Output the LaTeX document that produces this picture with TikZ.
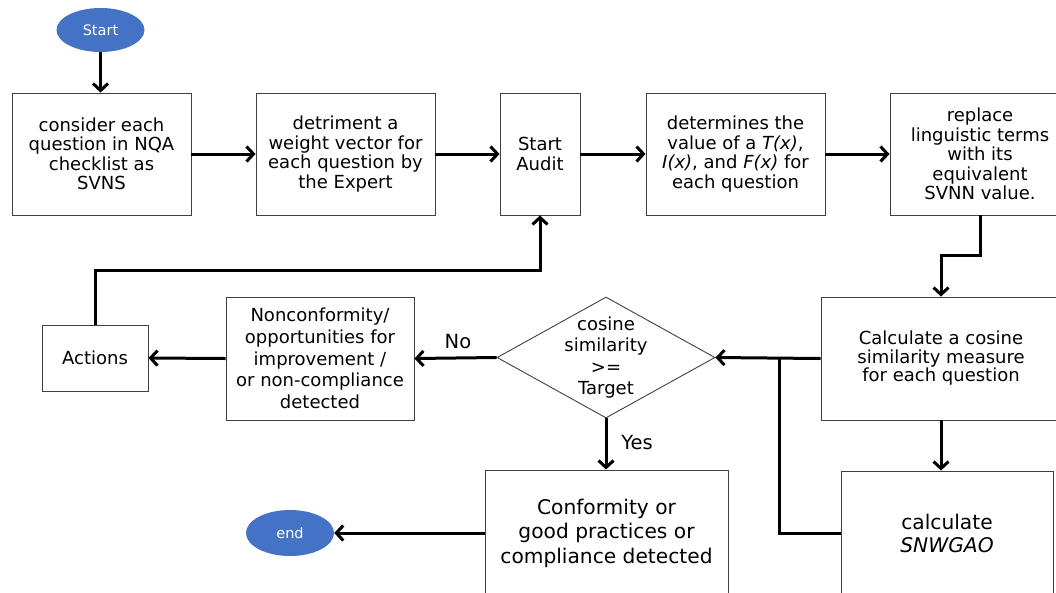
\documentclass[tikz,border=0pt]{standalone}
\usepackage{fontspec}
\setmainfont{DejaVu Sans}
\usetikzlibrary{arrows.meta,shapes.geometric,calc}
\definecolor{ovalblue}{HTML}{4472C4}
\definecolor{boxline}{HTML}{404040}
\tikzset{
  box/.style={draw=boxline,line width=0.9pt,align=center,inner sep=0pt,
    font=\fontsize{18}{19.5}\selectfont},
  bigbox/.style={box,font=\fontsize{20.2}{24.5}\selectfont},
  oval/.style={ellipse,fill=ovalblue,draw=none,text=white,inner sep=0pt,
    font=\fontsize{14.5}{16}\selectfont},
  conn/.style={line width=3pt},
  arr/.style={conn,-{Straight Barb[length=7pt,width=15pt]}},
  lbl/.style={font=\fontsize{19.5}{22}\selectfont,inner sep=0pt}
}
\begin{document}
\begin{tikzpicture}[x=1pt,y=-1pt]
\useasboundingbox (0,0) rectangle (1056,592);
\clip (0,0) rectangle (1056,592);
% nodes
\node[oval,minimum width=88pt,minimum height=44pt] (start) at (100.5,30) {Start};
\node[box,minimum width=179pt,minimum height=122pt] (b1) at (101.5,154)
  {consider each\\question in NQA\\checklist as\\SVNS};
\node[box,minimum width=179pt,minimum height=122pt] (b2) at (345.5,154)
  {detriment a\\weight vector for\\each question by\\the Expert};
\node[box,minimum width=80pt,minimum height=122pt] (b3) at (540,154)
  {Start\\Audit};
\node[box,minimum width=179pt,minimum height=122pt] (b4) at (735.5,154)
  {determines the\\value of a \textit{T(x)},\\\textit{I(x)}, and \textit{F(x)} for\\each question};
\node[box,minimum width=180pt,minimum height=122pt] (b5) at (980,154)
  {replace\\linguistic terms\\with its\\equivalent\\SVNN value.};
\node[box,minimum width=240pt,minimum height=123pt,font=\fontsize{18}{18.5}\selectfont] (calc) at (941,358.5)
  {Calculate a cosine\\similarity measure\\for each question};
\node[diamond,draw=boxline,line width=0.9pt,minimum width=218pt,minimum height=121pt,inner sep=0pt] (dia) at (606,357.5) {};
\node[align=center,inner sep=0pt,font=\fontsize{18}{21.5}\selectfont] (diat) at (dia.center)
  {cosine\\similarity\\>=\\Target};
\node[box,minimum width=188pt,minimum height=123pt,font=\fontsize{18}{21.75}\selectfont] (nc) at (320,358.5)
  {Nonconformity/\\opportunities for\\improvement /\\or non-compliance\\detected};
\node[box,minimum width=106pt,minimum height=66pt] (act) at (95,358)
  {Actions};
\node[bigbox,minimum width=243pt,minimum height=126pt] (conf) at (606.5,533)
  {Conformity or\\good practices or\\compliance detected};
\node[bigbox,minimum width=212pt,minimum height=124pt,font=\fontsize{20.2}{23}\selectfont] (snw) at (947,533)
  {calculate\\\textit{SNWGAO}};
\node[oval,minimum width=88pt,minimum height=46pt] (end) at (290,533) {end};
% coordinates
\coordinate (j) at (779,357.5);
\coordinate (lp) at (540,270);
% connectors
\draw[arr] (start.south) -- (start.south |- b1.north);
\draw[arr] (b1.east) -- (b2.west);
\draw[arr] (b2.east) -- (b3.west);
\draw[arr] (b3.east) -- (b4.west);
\draw[arr] (b4.east) -- (b5.west);
\draw[arr] (b5.south) -- ++(0,40) -| (calc.north);
\draw[arr] (calc.west) -- (dia.east);
\draw[conn] (snw.west) -| (j);
\draw[arr] (calc.south) -- (calc.south |- snw.north);
\draw[arr] (dia.south) -- (dia.south |- conf.north);
\draw[arr] (dia.west) -- (nc.east);
\draw[arr] (nc.west) -- (act.east);
\draw[arr] (act.north) |- (lp) -- (b3.south);
\draw[arr] (conf.west) -- (end.east);
% labels
\node[lbl] (no) at (458,342) {No};
\node[lbl] (yes) at (637,443) {Yes};
\end{tikzpicture}
\end{document}
